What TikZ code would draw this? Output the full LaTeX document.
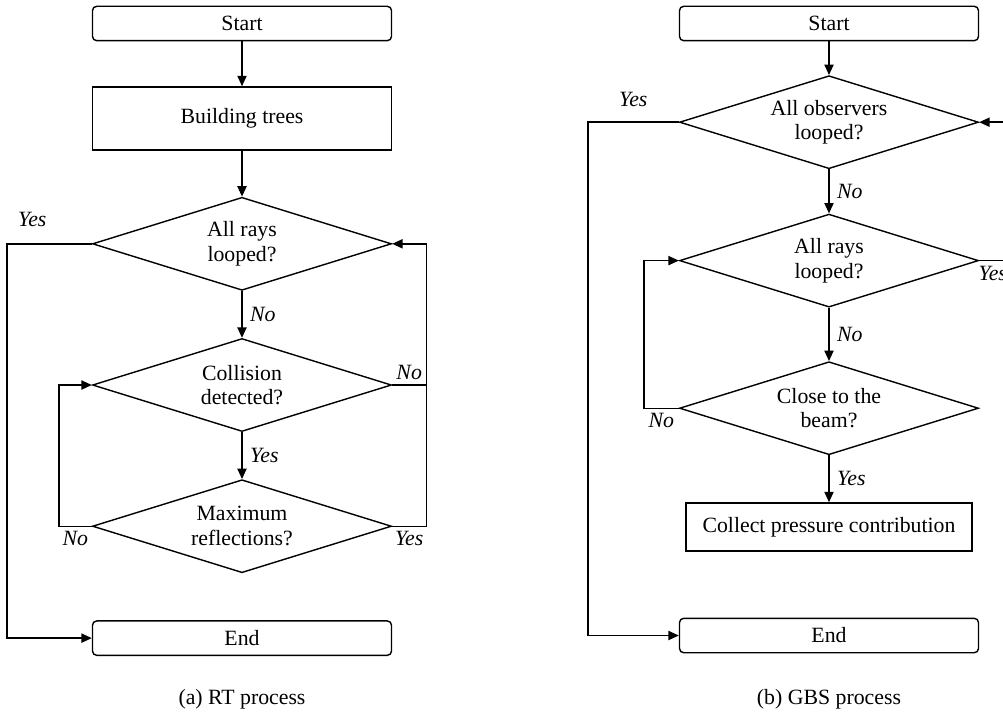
\documentclass[tikz,border=0pt]{standalone}
\usepackage{fontspec}
\setmainfont{Liberation Serif}
\usepackage{tikz}
\usetikzlibrary{arrows.meta,positioning,shapes.geometric}
\newcommand{\fcsize}{\fontsize{15.5}{17.5}\selectfont}
\tikzset{
  fcterm/.style={draw, line width=1pt, rounded corners=3pt, align=center, minimum width=7.475cm, minimum height=0.86cm, inner sep=0pt, font=\fcsize},
  fcproc/.style={draw, line width=1pt, align=center, minimum width=7.475cm, minimum height=1.575cm, inner sep=0pt, font=\fcsize},
  fcdec/.style={draw, line width=1pt, diamond, aspect=3.2, align=center, minimum width=7.475cm, minimum height=2.325cm, inner sep=0pt, font=\fcsize},
  fcarrow/.style={-{Triangle[length=2.6mm,width=2.3mm]}, line width=1pt},
  fcline/.style={line width=1pt},
  fclabel/.style={font=\fcsize\itshape},
  fccap/.style={anchor=base, font=\fcsize}
}

\begin{document}
\begin{tikzpicture}[node distance=1.17cm]
\clip (0,0) rectangle (25.075,-17.875);
% (a) RT process
\node[fcterm] (start) at (6.05,-0.5875) {Start};
\node[fcproc, below=1.12cm of start] (build) {Building trees};
\node[fcdec, below=1.15cm of build] (rays) {All rays\\looped?};
\node[fcdec, below=of rays] (coll) {Collision\\detected?};
\node[fcdec, below=of coll] (maxr) {Maximum\\reflections?};
\node[fcterm, below=of maxr] (end) {End};
\node[fccap] (capa) at (6.05,-17.6) {(a) RT process};
\draw[fcarrow] (start) -- (build);
\draw[fcarrow] (build) -- (rays);
\draw[fcarrow] (rays) -- node[fclabel, right=2pt] {No} (coll);
\draw[fcarrow] (coll) -- node[fclabel, right=2pt] {Yes} (maxr);
\draw[fcarrow] (rays.west) -- node[fclabel, above=0.3cm, pos=0.7] {Yes} ++(-2.125,0) |- (end);
\draw[fcarrow] (coll.east) -- node[fclabel, above] {No} ++(0.85,0) |- (rays.east);
\draw[fcline] (maxr.east) -- node[fclabel, below] {Yes} ++(0.85,0) |- (coll.east);
\draw[fcarrow] (maxr.west) -- node[fclabel, below] {No} ++(-0.825,0) |- (coll.west);

% (b) GBS process
\node[fcterm] (start2) at (20.725,-0.5875) {Start};
\node[fcdec, below=0.84cm of start2] (obs) {All observers\\looped?};
\node[fcdec, below=1.1cm of obs] (rays2) {All rays\\looped?};
\node[fcdec, below=1.33cm of rays2] (beam) {Close to the\\beam?};
\node[fcproc, below=1.17cm of beam, minimum width=7.15cm, minimum height=1.2cm] (collect) {Collect pressure contribution};
\node[fcterm, below=1.65cm of collect] (end2) {End};
\node[fccap] (capb) at (20.725,-17.6) {(b) GBS process};
\draw[fcarrow] (start2) -- (obs);
\draw[fcarrow] (obs) -- node[fclabel, right=2pt] {No} (rays2);
\draw[fcarrow] (rays2) -- node[fclabel, right=2pt] {No} (beam);
\draw[fcarrow] (beam) -- node[fclabel, right=2pt] {Yes} (collect);
\draw[fcarrow] (obs.west) -- node[fclabel, above=0.25cm] {Yes} ++(-2.275,0) |- (end2);
\draw[fcarrow] (beam.west) -- node[fclabel, below] {No} ++(-0.875,0) |- (rays2.west);
\draw[fcarrow] (rays2.east) -- node[fclabel, below, pos=0.4] {Yes} ++(0.85,0) |- (obs.east);
\end{tikzpicture}
\end{document}
